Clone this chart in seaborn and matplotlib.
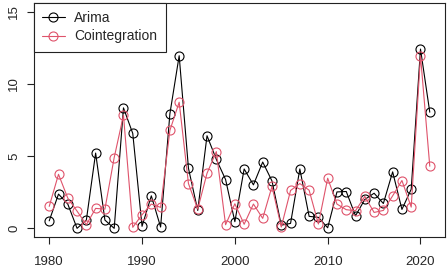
import matplotlib
matplotlib.use("Agg")
import matplotlib.pyplot as plt
import seaborn as sns
import pandas as pd
import numpy as np

years = list(range(1980, 2022))
arima = [0.52, 2.37, 1.68, 0.0, 0.57, 5.21, 0.57, 0.0, 8.34, 6.57,
         0.14, 2.25, 0.09, 7.93, 11.95, 4.16, 1.24, 6.41, 4.78, 3.38,
         0.46, 4.11, 3.01, 4.59, 3.28, 0.22, 0.34, 4.11, 0.83, 0.76,
         0.04, 2.52, 2.55, 0.87, 2.0, 2.43, 1.72, 3.91, 1.31, 2.71,
         12.41, 8.04]
coint = [1.52, 3.74, 2.09, 1.19, 0.25, 1.38, 1.33, 4.9, 7.83, 0.07,
         0.94, 1.68, 1.45, 6.78, 8.73, 3.1, 1.33, 3.81, 5.31, 0.25,
         1.7, 0.28, 1.68, 0.69, 2.9, 0.09, 2.62, 3.1, 2.64, 0.3,
         3.47, 1.68, 1.29, 1.22, 2.21, 1.1, 1.24, 2.25, 3.31, 1.47,
         11.95, 4.3]
series_names = ["Arima", "Cointegration"]
colors = ["black", "#DF536B"]

df = pd.DataFrame({
    "year": years * 2,
    "value": arima + coint,
    "model": [series_names[0]] * len(years) + [series_names[1]] * len(years),
})

sns.set_style("white")
plt.rcParams["font.family"] = ["Liberation Sans", "DejaVu Sans"]

fig = plt.figure(figsize=(4.48, 2.73), dpi=100)
ax = fig.add_axes([34/448, 36/273, 411/448, 234/273])

for name, col in zip(series_names, colors):
    sub = df[df["model"] == name]
    sns.lineplot(data=sub, x="year", y="value", ax=ax, color=col, label=name,
                 marker="o", markersize=6.5, markerfacecolor="none",
                 markeredgecolor=col, markeredgewidth=0.8, linewidth=0.8)

ax.set_xlim(1978.36, 2022.64)
ax.set_ylim(-0.6, 15.6)
ax.set_xticks([1980, 1990, 2000, 2010, 2020])
ax.set_yticks([0, 5, 10, 15])
ax.set_xlabel("")
ax.set_ylabel("")
for s in ax.spines.values():
    s.set_color("#222222")
    s.set_linewidth(0.8)
    s.set_visible(True)
ax.tick_params(axis="both", direction="out", length=5, width=0.8, color="#222222",
               labelsize=9.5, bottom=True, left=True)
ax.tick_params(axis="x", pad=8.5)
ax.tick_params(axis="y", pad=5)
for lab in ax.get_yticklabels():
    lab.set_rotation(90)
    lab.set_va("center")

leg = ax.legend(loc="upper left", frameon=True, fontsize=10, fancybox=False,
                borderaxespad=0, handlelength=1.6, borderpad=0.6, labelspacing=0.3,
                handletextpad=0.7)
leg.get_frame().set_edgecolor("#222222")
leg.get_frame().set_linewidth(0.8)
leg.get_frame().set_alpha(1)

fig.savefig("out.png", dpi=100)
